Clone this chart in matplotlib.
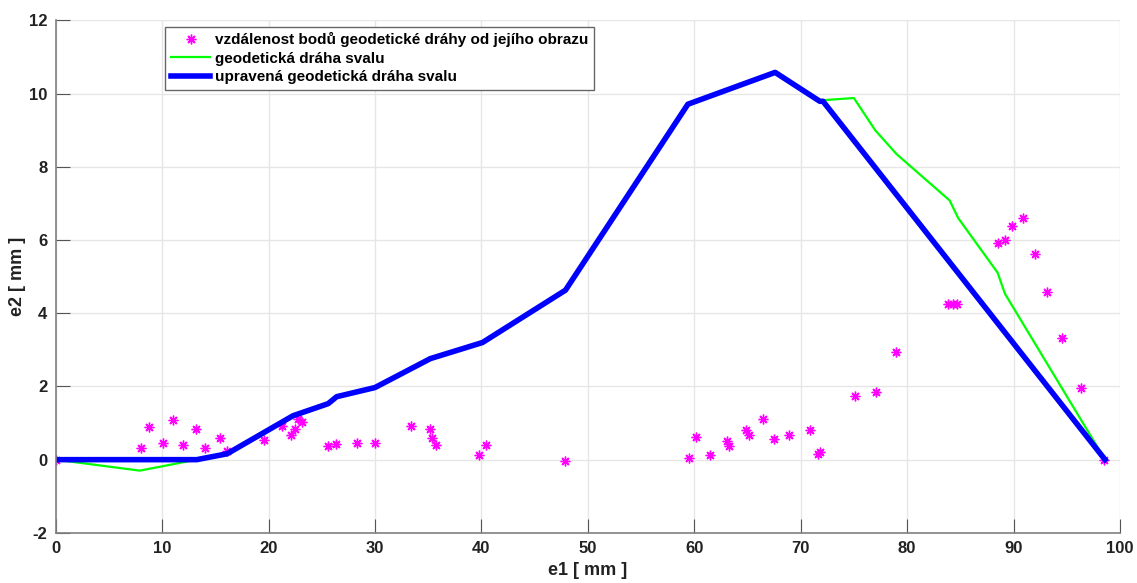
import matplotlib.pyplot as plt

plt.rcParams['font.family'] = ['Liberation Sans', 'DejaVu Sans']
plt.rcParams['font.weight'] = 'bold'
plt.rcParams['axes.unicode_minus'] = False

# geodeticka draha svalu (green)
geo_x = [0, 7.9, 13.25, 16.1, 22.3, 25.6, 26.4, 30.0, 35.2, 40.1, 47.9, 59.4, 67.6, 71.8,
         72.1, 75.0, 77.0, 79.0, 84.0, 84.8, 88.5, 89.2, 98.6]
geo_y = [0, -0.3, 0, 0.16, 1.2, 1.53, 1.72, 1.97, 2.76, 3.2, 4.63, 9.71, 10.58, 9.79,
         9.82, 9.88, 9.0, 8.35, 7.08, 6.6, 5.11, 4.53, 0]

# upravena geodeticka draha svalu (blue)
upr_x = [0, 13.25, 16.1, 22.3, 25.6, 26.4, 30.0, 35.2, 40.1, 47.9, 59.4, 67.6, 71.8, 72.1, 98.6]
upr_y = [0, 0, 0.16, 1.2, 1.53, 1.72, 1.97, 2.76, 3.2, 4.63, 9.71, 10.58, 9.79, 9.79, 0]

# vzdalenost bodu (magenta asterisks)
pts_x = [0, 8.0, 8.8, 10.1, 11.0, 12.0, 13.2, 14.0, 15.4, 16.1, 19.6, 21.3, 22.1, 22.5,
         22.8, 23.1, 25.6, 26.3, 28.3, 30.0, 33.4, 35.2, 35.4, 35.7, 39.8, 40.4, 47.9,
         59.5, 60.2, 61.5, 63.1, 63.3, 64.9, 65.1, 66.5, 67.5, 68.9, 70.9, 71.6, 71.8,
         75.1, 77.1, 79.0, 83.8, 84.3, 84.7, 88.5, 89.2, 89.9, 90.9, 92.0, 93.1, 94.6,
         96.3, 98.5]
pts_y = [0, 0.33, 0.88, 0.46, 1.07, 0.41, 0.85, 0.33, 0.60, 0.24, 0.55, 0.93, 0.68, 0.85,
         1.12, 1.04, 0.38, 0.44, 0.46, 0.46, 0.93, 0.85, 0.60, 0.41, 0.14, 0.41, -0.03,
         0.05, 0.63, 0.13, 0.52, 0.38, 0.82, 0.68, 1.12, 0.57, 0.68, 0.82, 0.16, 0.22,
         1.75, 1.86, 2.93, 4.24, 4.24, 4.24, 5.93, 5.99, 6.37, 6.59, 5.63, 4.57, 3.31,
         1.97, 0]

fig = plt.figure(figsize=(11.37, 5.83), dpi=100)
ax = fig.add_axes([0.049, 0.086, 0.936, 0.879])

ax.plot(pts_x, pts_y, linestyle='none', marker=(8, 2, 0), markersize=7,
        color='#ff00ff', markeredgewidth=1, label='vzdálenost bodů geodetické dráhy od jejího obrazu')
ax.plot(geo_x, geo_y, color='#00ff00', linewidth=1.6, label='geodetická dráha svalu')
ax.plot(upr_x, upr_y, color='#0000ff', linewidth=4, label='upravená geodetická dráha svalu')

ax.set_xlim(0, 100)
ax.set_ylim(-2, 12)
ax.set_xticks(range(0, 101, 10))
ax.set_yticks(range(-2, 13, 2))
ax.grid(True, color='#e6e6e6', linewidth=1)
ax.set_axisbelow(True)

for s in ['top', 'right']:
    ax.spines[s].set_visible(False)
for s in ['left', 'bottom']:
    ax.spines[s].set_color('#808080')
    ax.spines[s].set_linewidth(1.2)
ax.tick_params(direction='in', length=10, color='#555555', labelsize=12,
               labelcolor='#222222', pad=6)

ax.set_xlabel('e1 [ mm ]', fontsize=13, fontweight='bold', color='#222222')
ax.set_ylabel('e2 [ mm ]', fontsize=13, fontweight='bold', color='#222222')
ax.yaxis.set_label_coords(-0.028, 0.5)

leg = ax.legend(loc='upper left', bbox_to_anchor=(0.103, 0.988), fontsize=11,
                frameon=True, fancybox=False, edgecolor='#666666', framealpha=1,
                handlelength=2.6, handletextpad=0.3, borderpad=0.35, labelspacing=0.3,
                borderaxespad=0)
for t in leg.get_texts():
    t.set_fontweight('bold')

plt.savefig('out.png', dpi=100)
